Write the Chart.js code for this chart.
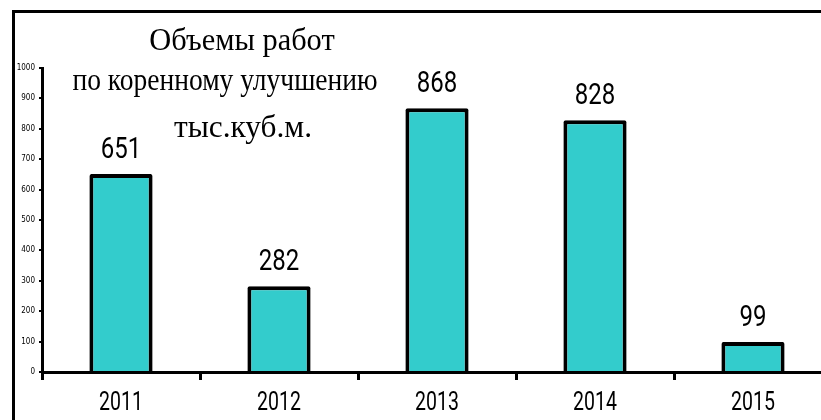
<!DOCTYPE html>
<html>
<head>
<meta charset="utf-8">
<script src="https://cdn.jsdelivr.net/npm/chart.js@4/dist/chart.umd.min.js"></script>
<style>
  html, body { margin: 0; padding: 0; background: #fff; overflow: hidden; width: 821px; height: 420px; }
  #wrap { position: relative; width: 821px; height: 420px; overflow: hidden; }
  #frame { position: absolute; left: 12px; top: 10px; width: 900px; height: 500px;
           border-left: 3px solid #000; border-top: 3px solid #000; }
  canvas { position: absolute; left: 0; top: 0; }
  .ttl { position: absolute; width: 600px; text-align: center; white-space: nowrap;
         font-family: "Liberation Serif", "Times New Roman", serif; font-size: 32px; line-height: 32px;
         color: #000; transform-origin: center; }
</style>
</head>
<body>
<div id="wrap">
  <div id="frame"></div>
  <canvas id="chart" width="832" height="420"></canvas>
  <div class="ttl" style="left:-58px; top:23px; transform:scaleX(0.95);">Объемы работ</div>
  <div class="ttl" style="left:-75px; top:63px; transform:scaleX(0.86);">по коренному улучшению</div>
  <div class="ttl" style="left:-57px; top:110px; transform:scaleX(0.98);">тыс.куб.м.</div>
</div>
<script>
  // данные
  const years = ["2011", "2012", "2013", "2014", "2015"];
  const volumes = [651, 282, 868, 828, 99];
  const yTicks = [0, 100, 200, 300, 400, 500, 600, 700, 800, 900, 1000];

  const sans = "Roboto, 'Liberation Sans', sans-serif";

  // узкий текст: рисуем с горизонтальным сжатием
  function narrowText(ctx, text, x, y, size, sx) {
    ctx.save();
    ctx.font = size + "px " + sans;
    ctx.fillStyle = "#000";
    ctx.textAlign = "center";
    ctx.textBaseline = "alphabetic";
    ctx.translate(x, y);
    ctx.scale(sx, 1);
    ctx.fillText(text, 0, 0);
    ctx.restore();
  }

  // подписи значений над столбцами и годы под осью
  const narrowLabels = {
    id: "narrowLabels",
    afterDraw(chart) {
      const ctx = chart.ctx;
      const meta = chart.getDatasetMeta(0);
      meta.data.forEach((bar, i) => {
        narrowText(ctx, String(volumes[i]), bar.x, bar.y - 16, 30, 0.8);
      });
      const xScale = chart.scales.x;
      years.forEach((yr, i) => {
        narrowText(ctx, yr, xScale.getPixelForTick(i), 410, 25, 0.78);
      });
    }
  };

  new Chart(document.getElementById("chart"), {
    type: "bar",
    data: {
      labels: years,
      datasets: [{
        data: volumes,
        backgroundColor: "#33CCCC",
        borderColor: "#000",
        borderWidth: 4,
        borderRadius: 2,
        barPercentage: 0.4,
        categoryPercentage: 1.0
      }]
    },
    options: {
      responsive: false,
      animation: false,
      devicePixelRatio: 1,
      layout: { padding: { top: 68, right: 0, left: 0, bottom: 0 } },
      plugins: { legend: { display: false }, tooltip: { enabled: false }, title: { display: false } },
      scales: {
        x: {
          afterFit(scale) { scale.height = 48; },
          grid: { display: true, drawOnChartArea: false, offset: true, tickLength: 8, color: "#000", lineWidth: 3 },
          border: { display: true, color: "#000", width: 3 },
          ticks: { display: false }
        },
        y: {
          min: 0,
          max: 1000,
          afterFit(scale) { scale.width = 42; },
          afterBuildTicks(scale) { scale.ticks = yTicks.map(v => ({ value: v })); },
          grid: { drawOnChartArea: false, tickLength: 3, color: "#000", lineWidth: 2 },
          border: { display: true, color: "#000", width: 3 },
          ticks: {
            color: "#000", padding: 4,
            font: { family: "'DejaVu Sans Condensed', sans-serif", size: 8 },
            callback: v => String(v)
          }
        }
      }
    },
    plugins: [narrowLabels]
  });
</script>
</body>
</html>
